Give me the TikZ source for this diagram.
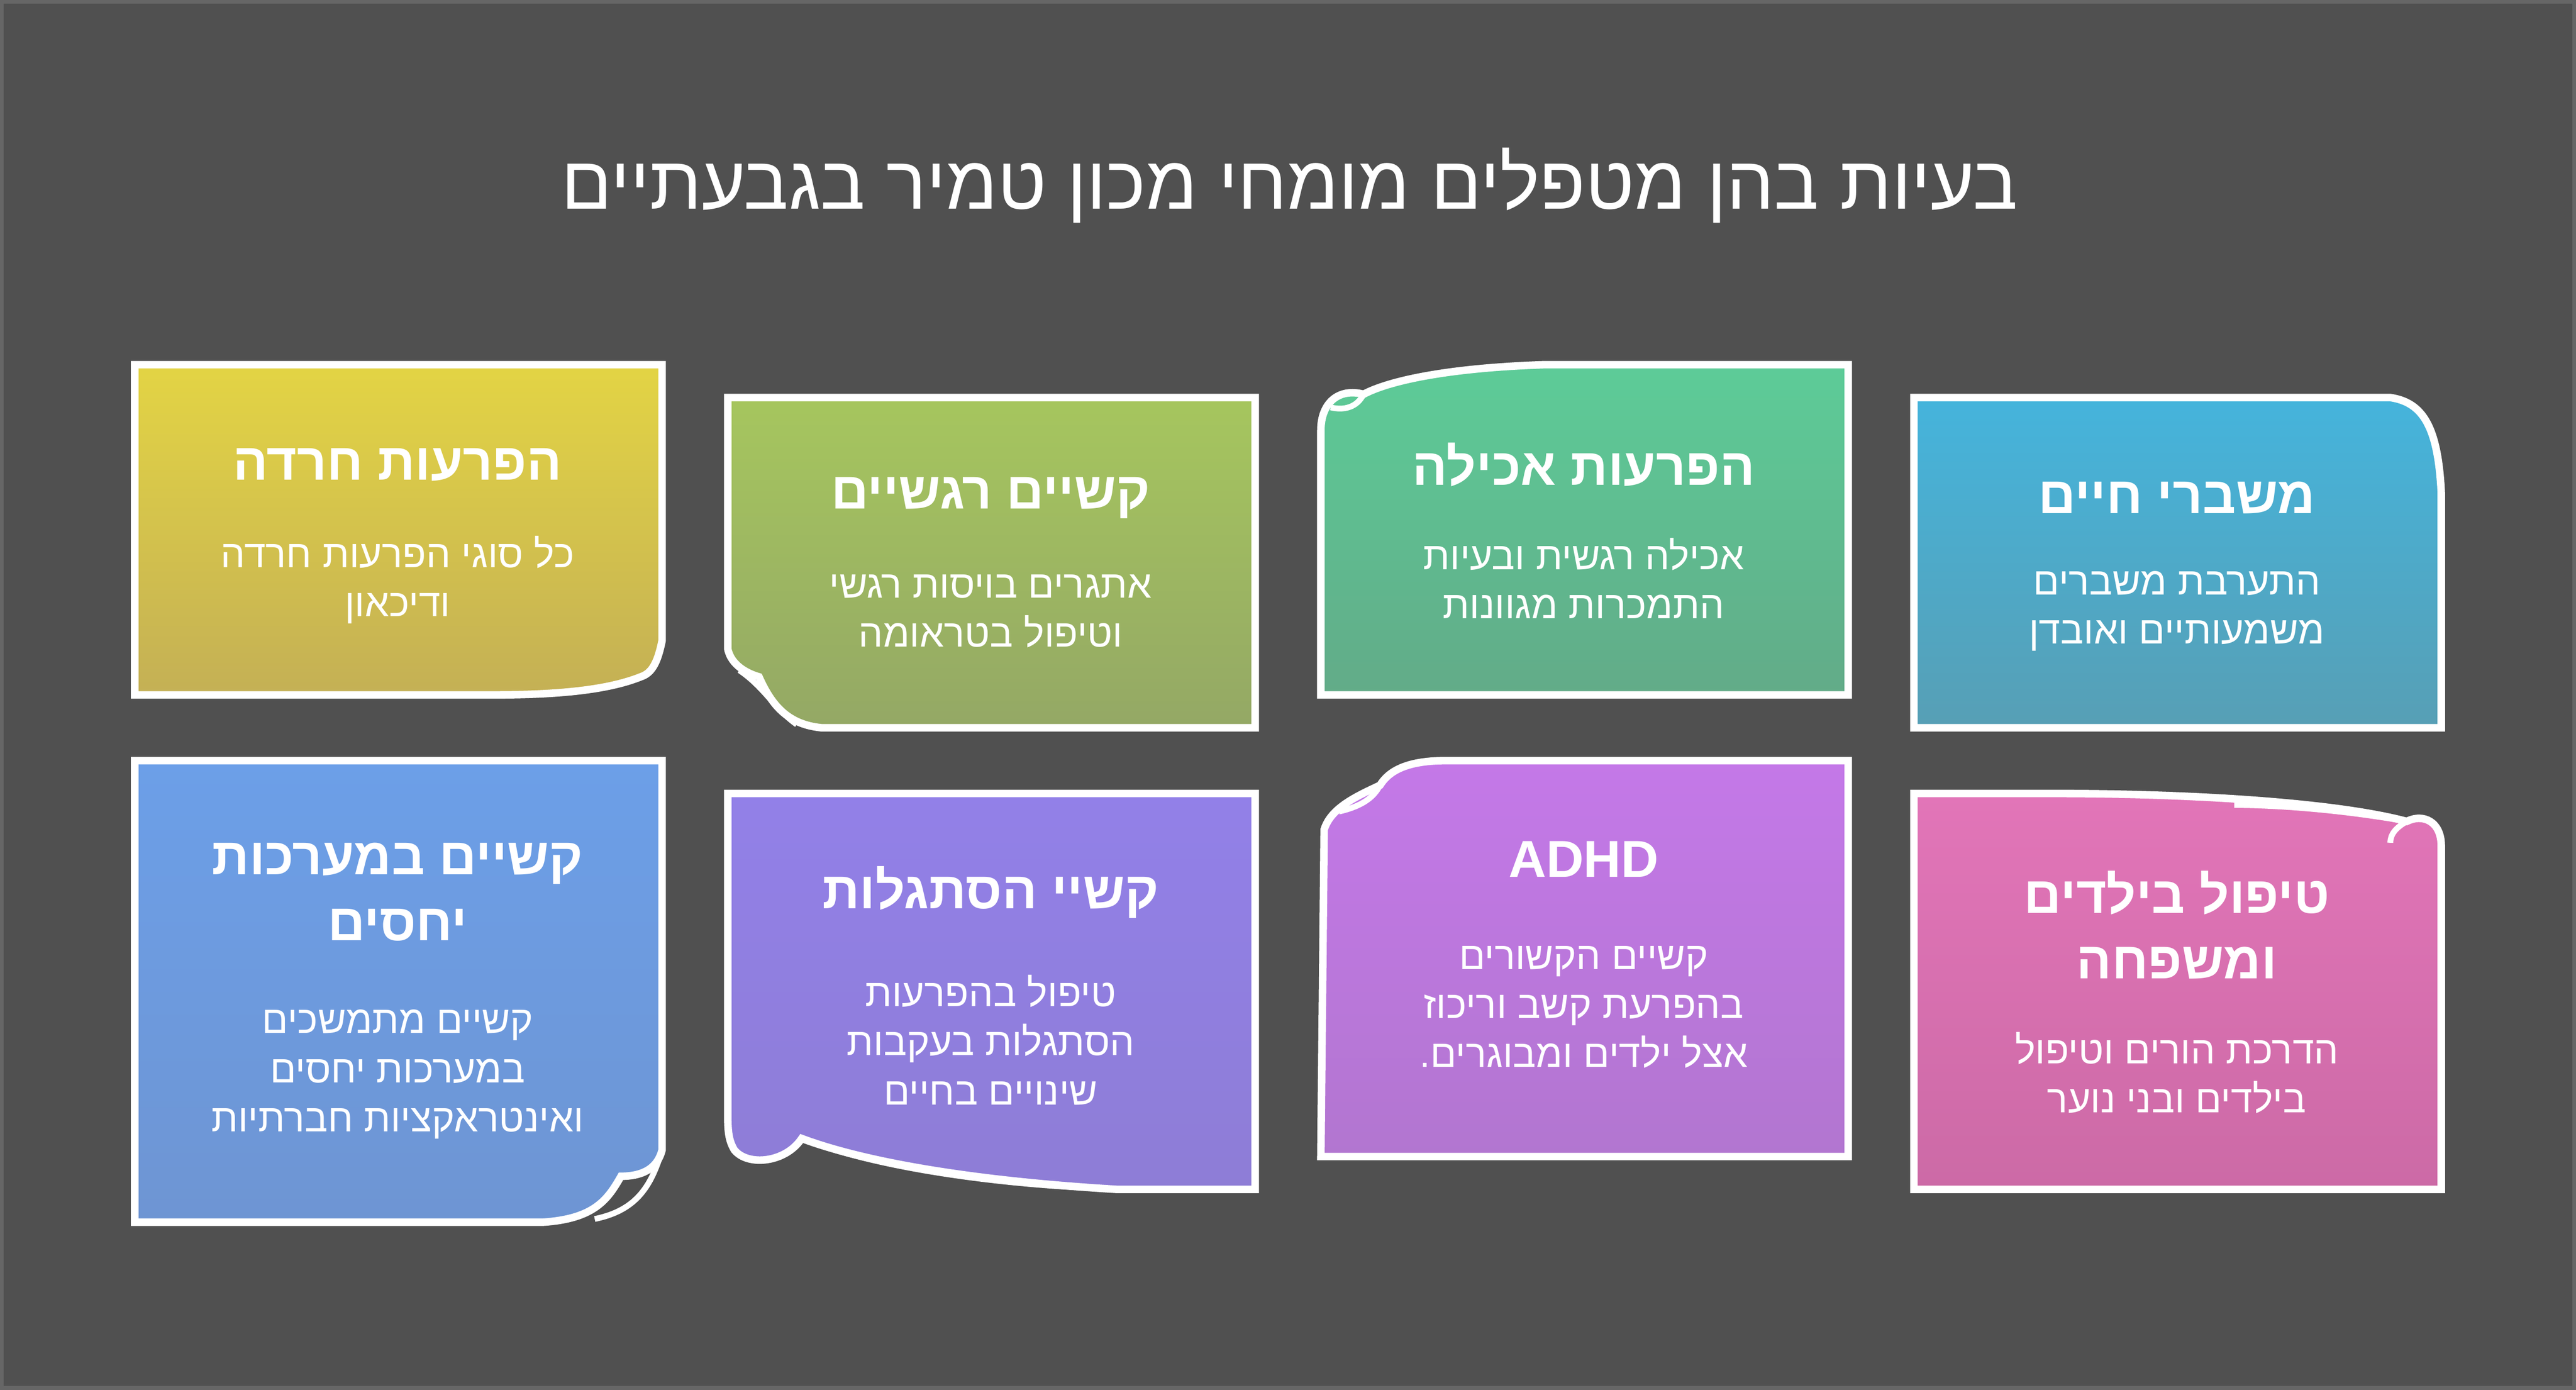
\documentclass[tikz,border=0pt]{standalone}
\usepackage{fontspec}
\setmainfont{Liberation Sans}
\newfontfamily\hebfont[Script=Hebrew]{Liberation Sans}
\TeXXeTstate=1
\usetikzlibrary{positioning}
\newcommand{\heb}[1]{\beginR #1\endR}
\definecolor{bgc}{HTML}{505050}
\definecolor{yelT}{HTML}{E3D444}\definecolor{yelB}{HTML}{C4B055}
\definecolor{grnT}{HTML}{A6C65E}\definecolor{grnB}{HTML}{94A865}
\definecolor{tealT}{HTML}{5DCC98}\definecolor{tealB}{HTML}{62AB88}
\definecolor{cyanT}{HTML}{45B4DC}\definecolor{cyanB}{HTML}{579FB5}
\definecolor{bluT}{HTML}{6C9FE8}\definecolor{bluB}{HTML}{6E95D3}
\definecolor{purT}{HTML}{9280E8}\definecolor{purB}{HTML}{8E7DD6}
\definecolor{vioT}{HTML}{C478E8}\definecolor{vioB}{HTML}{B276D0}
\definecolor{pnkT}{HTML}{E275B8}\definecolor{pnkB}{HTML}{CC6AA6}
\tikzset{
  card/.style 2 args={top color=#1, bottom color=#2, draw=white, line width=1.3pt},
  fold/.style={draw=white, line width=1pt},
  ttl/.style={text=white, font=\hebfont\fontsize{13}{15}\selectfont},
  head/.style={text=white, align=center, font=\hebfont\bfseries\fontsize{9}{11.4}\selectfont},
  body/.style={text=white, align=center, font=\hebfont\fontsize{6.7}{8.5}\selectfont}
}
\begin{document}
\begin{tikzpicture}[x=0.01cm,y=-0.01cm]
  \useasboundingbox (0,0) rectangle (1568,846);
  \fill[bgc] (0,0) rectangle (1568,846);
  \draw[black!60,line width=1pt] (0.5,0.5) rectangle (1567.5,845.5);

  \node[ttl] (title) at (785,113) {\heb{בעיות בהן מטפלים מומחי מכון טמיר בגבעתיים}};

  % top row
  \path[card={yelT}{yelB}] (82,222) -- (403,222) -- (403,390)
    .. controls (400,405) and (396,410) .. (390,412)
    .. controls (370,420) and (340,423) .. (300,423) -- (82,423) -- cycle;
  \path[card={grnT}{grnB}] (443,242) -- (764,242) -- (764,443) -- (500,443)
    .. controls (480,441) and (470,430) .. (462,412)
    .. controls (455,410) and (445,405) .. (443,395) -- cycle;
  \draw[fold] (450,408) .. controls (465,418) and (472,432) .. (485,441);
  \path[card={tealT}{tealB}] (804,423) -- (1125,423) -- (1125,222) -- (940,222)
    .. controls (880,224) and (845,232) .. (830,240)
    .. controls (815,236) and (804,245) .. (804,262) -- cycle;
  \draw[fold] (830,240) .. controls (826,248) and (818,250) .. (810,248);
  \path[card={cyanT}{cyanB}] (1165,242) -- (1455,242)
    .. controls (1475,245) and (1484,260) .. (1486,300) -- (1486,443) -- (1165,443) -- cycle;

  % bottom row
  \path[card={bluT}{bluB}] (82,463) -- (403,463) -- (403,700)
    .. controls (400,712) and (390,716) .. (378,716)
    .. controls (370,730) and (362,742) .. (330,744) -- (82,744) -- cycle;
  \draw[fold] (403,700) .. controls (396,724) and (386,737) .. (362,742);
  \path[card={purT}{purB}] (443,483) -- (764,483) -- (764,724) -- (680,724)
    .. controls (580,718) and (520,705) .. (488,693)
    .. controls (478,708) and (455,710) .. (447,700)
    .. controls (444,695) and (443,690) .. (443,680) -- cycle;
  \draw[fold] (488,693) .. controls (530,710) and (600,720) .. (660,723);
  \path[card={vioT}{vioB}] (804,704) -- (1125,704) -- (1125,463) -- (880,463)
    .. controls (855,463) and (845,470) .. (840,478)
    .. controls (825,485) and (810,492) .. (806,505) -- cycle;
  \draw[fold] (840,478) .. controls (836,486) and (828,491) .. (815,494);
  \path[card={pnkT}{pnkB}] (1165,483) -- (1165,724) -- (1486,724) -- (1486,515)
    .. controls (1486,500) and (1475,495) .. (1465,500)
    .. controls (1420,488) and (1330,483) .. (1250,483) -- cycle;
  \draw[fold] (1465,500) .. controls (1458,504) and (1455,508) .. (1455,513);
  \draw[fold] (1465,500) .. controls (1420,492) and (1380,490) .. (1360,490);

  % texts
  \node[head] (h1) at (242,283) {\heb{הפרעות חרדה}};
  \node[body] (b1) at (242,353) {\heb{כל סוגי הפרעות חרדה}\\\heb{ודיכאון}};
  \node[head] (h2) at (603,303) {\heb{קשיים רגשיים}};
  \node[body] (b2) at (603,372) {\heb{אתגרים בויסות רגשי}\\\heb{וטיפול בטראומה}};
  \node[head] (h3) at (964,283) {\heb{הפרעות אכילה}};
  \node[body] (b3) at (964,352) {\heb{אכילה רגשית ובעיות}\\\heb{התמכרות מגוונות}};
  \node[head] (h4) at (1325,303) {\heb{משברי חיים}};
  \node[body] (b4) at (1325,372) {\heb{התערבת משברים}\\\heb{משמעותיים ואובדן}};

  \node[head] (h5) at (242,543) {\heb{קשיים במערכות}\\\heb{יחסים}};
  \node[body] (b5) at (242,654) {\heb{קשיים מתמשכים}\\\heb{במערכות יחסים}\\\heb{ואינטראקציות חברתיות}};
  \node[head] (h6) at (603,543) {\heb{קשיי הסתגלות}};
  \node[body] (b6) at (603,633) {\heb{טיפול בהפרעות}\\\heb{הסתגלות בעקבות}\\\heb{שינויים בחיים}};
  \node[head] (h7) at (964,523) {ADHD};
  \node[body] (b7) at (964,613) {\heb{קשיים הקשורים}\\\heb{בהפרעת קשב וריכוז}\\\heb{אצל ילדים ומבוגרים.}};
  \node[head] (h8) at (1325,563) {\heb{טיפול בילדים}\\\heb{ומשפחה}};
  \node[body] (b8) at (1325,653) {\heb{הדרכת הורים וטיפול}\\\heb{בילדים ובני נוער}};
\end{tikzpicture}
\end{document}
